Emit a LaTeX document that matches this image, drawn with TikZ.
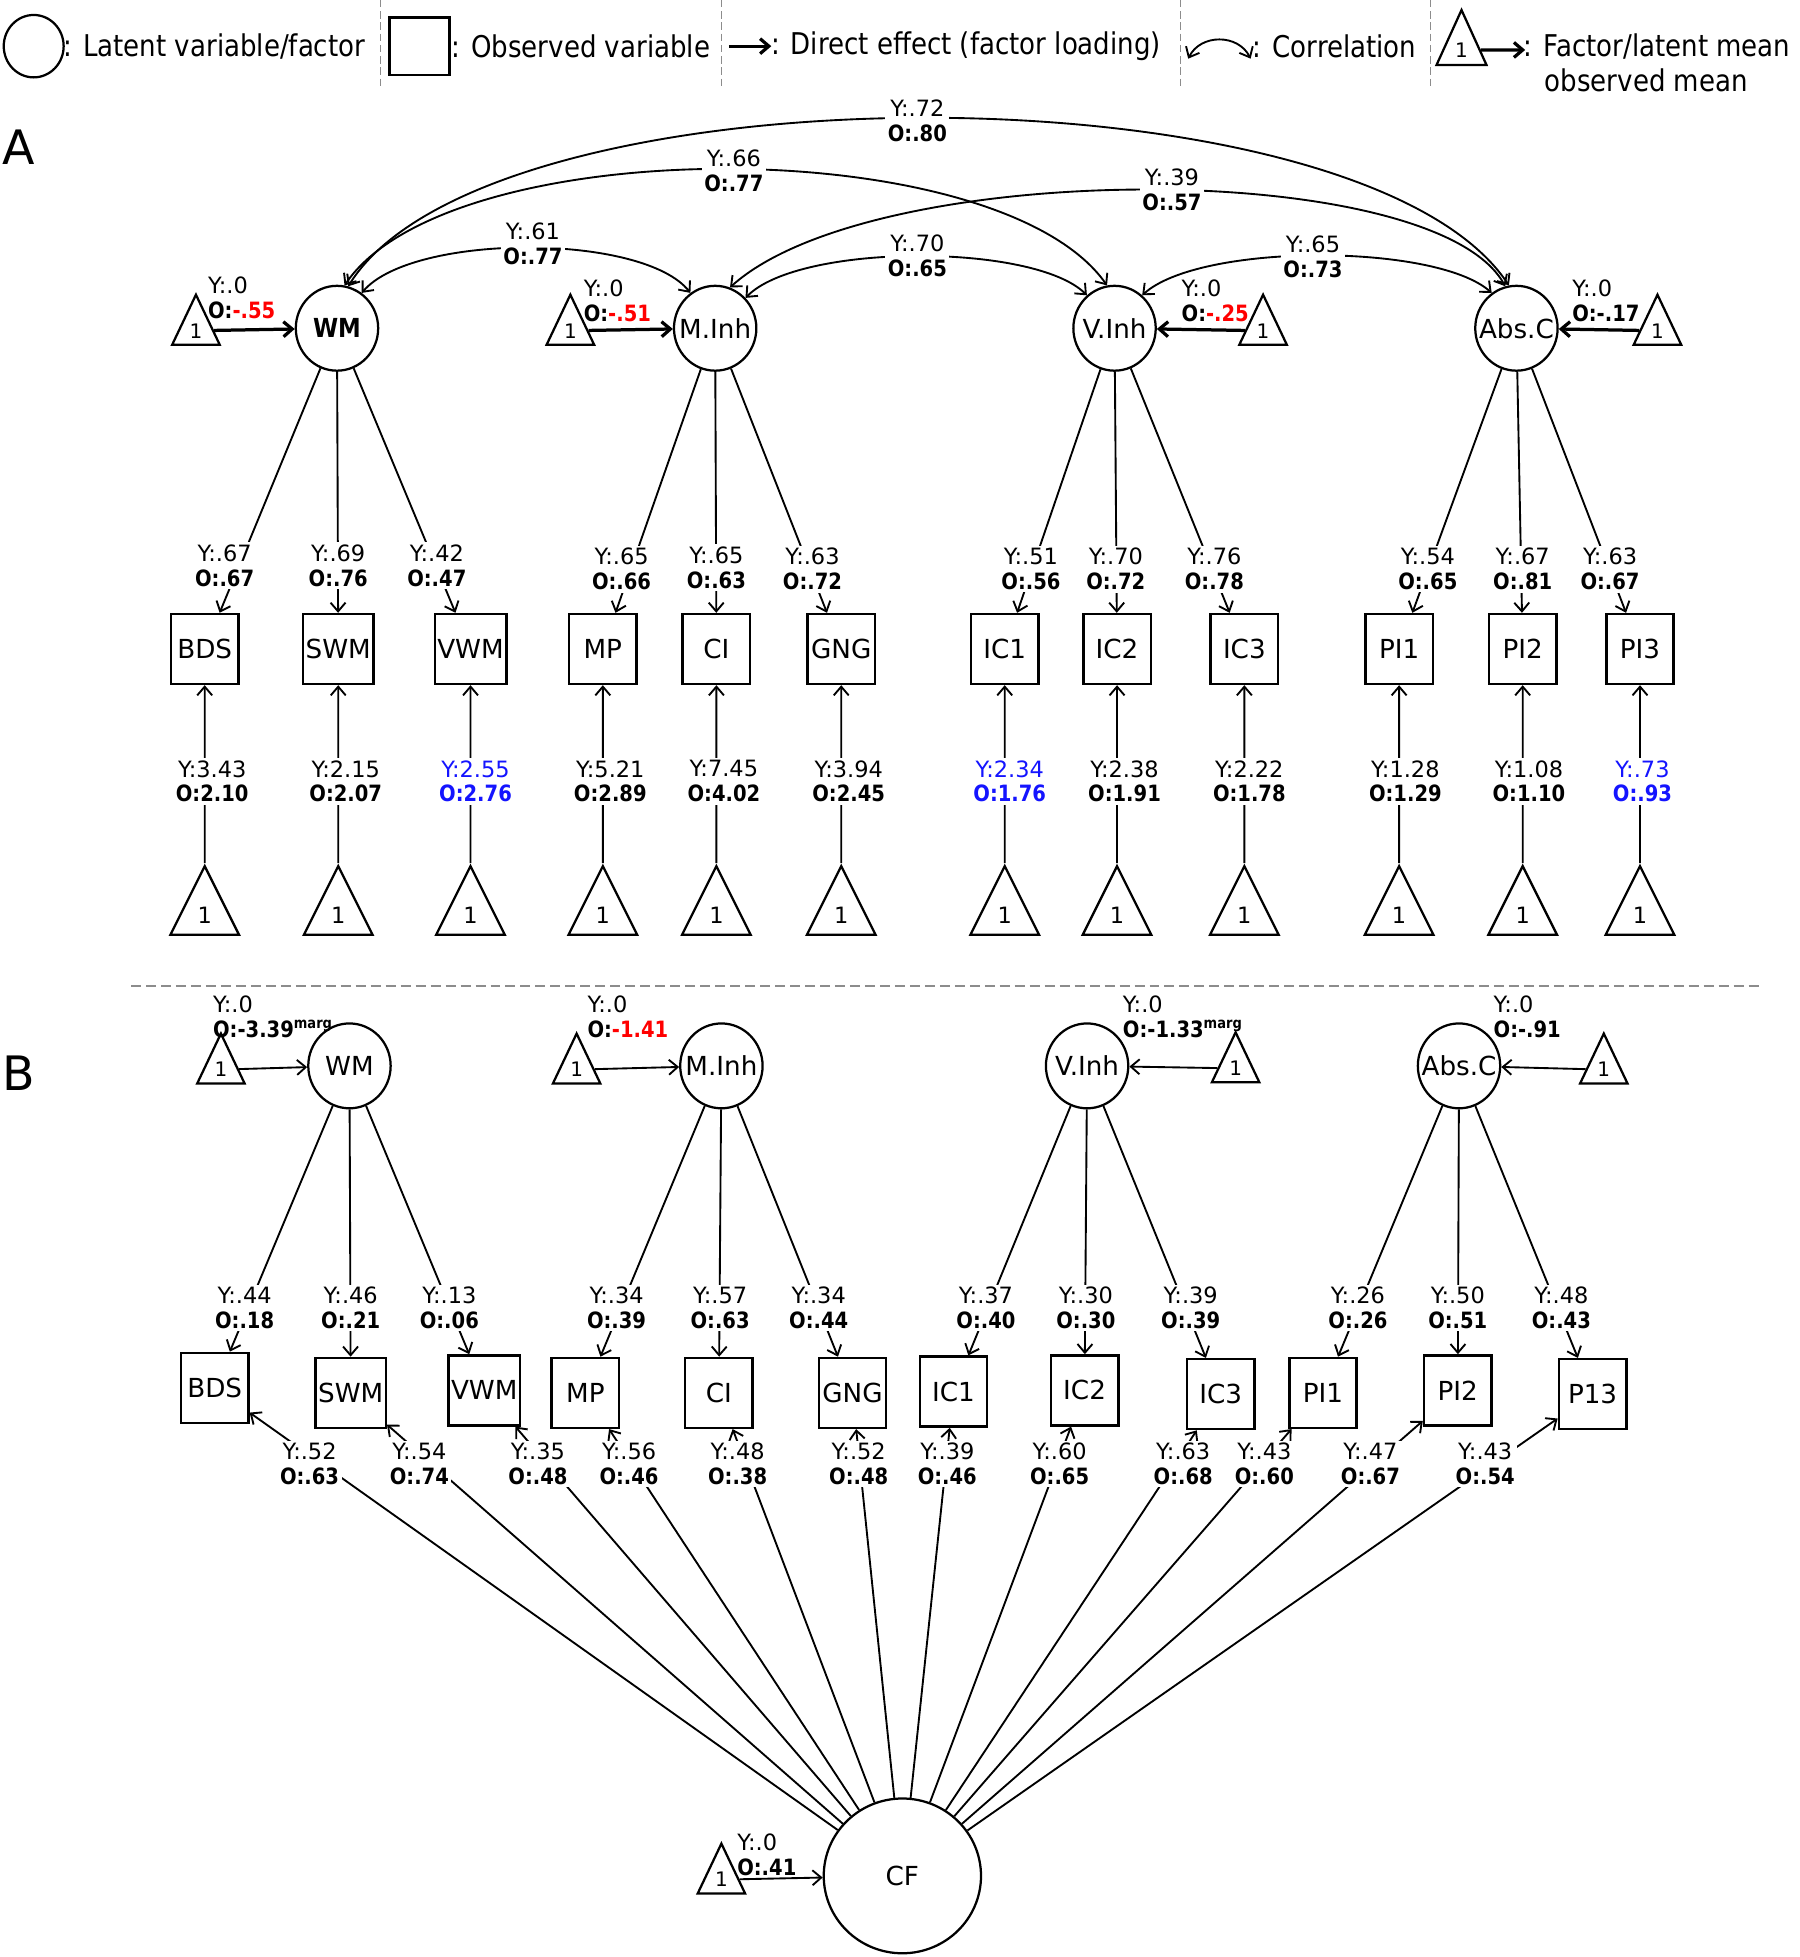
\documentclass[tikz,border=0pt]{standalone}
\usepackage{fontspec}
\setmainfont{DejaVu Sans}[BoldFeatures={FakeStretch=0.87}]
\newfontfamily\legfont{DejaVu Sans}[FakeStretch=0.87]
\usetikzlibrary{shapes.geometric,arrows.meta}
\definecolor{myred}{RGB}{255,0,0}
\definecolor{myblue}{RGB}{20,20,255}
\definecolor{sepgray}{RGB}{140,140,140}
\newcommand{\YO}[2]{Y:#1\\\textbf{O:#2}}
\newcommand{\zw}[1]{\makebox[0pt]{#1}}
\begin{document}
\begin{tikzpicture}[x=0.5pt,y=-0.5pt,
  >={Straight Barb[length=3.5pt,width=6pt]},
  line width=0.75pt,
  lat/.style={ellipse, draw, line width=0.9pt, minimum width=33pt, minimum height=34pt, inner sep=0pt, font=\fontsize{10.5}{12}\selectfont},
  obs/.style={rectangle, draw, line width=1pt, minimum width=27pt, minimum height=28pt, inner sep=1pt, font=\fontsize{10.5}{12}\selectfont},
  tri/.style={isosceles triangle, isosceles triangle stretches, shape border rotate=90, draw, line width=0.9pt, inner sep=0pt, font=\fontsize{8}{8}\selectfont},
  smalltri/.style={tri, minimum width=19pt, minimum height=20pt},
  bigtri/.style={tri, minimum width=27.5pt, minimum height=27.5pt, font=\fontsize{9}{9}\selectfont},
  lab/.style={fill=white, inner sep=1pt, align=center, font=\fontsize{9}{10}\selectfont},
  mlab/.style={inner sep=0pt, align=left, anchor=west, font=\fontsize{9}{10}\selectfont},
  leg/.style={inner sep=0pt, anchor=west, font=\legfont\fontsize{12}{14}\selectfont},
  load/.style={->},
  meanA/.style={->, line width=1.3pt},
  corr/.style={<->},
  sepline/.style={sepgray, line width=0.5pt, dash pattern=on 3pt off 1.5pt}
]
\fill[white] (0,0) rectangle (1442,1568);
\useasboundingbox (0,0) rectangle (1442,1568);

% ---------------- legend ----------------
\node[ellipse, draw, line width=0.9pt, minimum width=24pt, minimum height=25pt, inner sep=0pt] (legcirc) at (27,37) {};
\node[leg] (legt1) at (50,37) {: Latent variable/factor};
\draw[sepline] (305,0) -- (305,72);
\node[rectangle, draw, line width=1pt, minimum width=24pt, minimum height=23pt, inner sep=0pt] (legbox) at (336,37) {};
\node[leg] (legt2) at (361,37) {: Observed variable};
\draw[sepline] (578,0) -- (578,72);
\coordinate (le1) at (584,37);
\coordinate (le2) at (618,37);
\draw[meanA] (le1) -- (le2);
\node[leg] (legt3) at (617,37) {: Direct effect (factor loading)};
\draw[sepline] (946,0) -- (946,72);
\coordinate (lc1) at (952,47);
\coordinate (lc2) at (1002,47);
\draw[corr] (lc1) .. controls (962,27) and (992,27) .. (lc2);
\node[leg] (legt4) at (1003,37) {: Correlation};
\draw[sepline] (1146,0) -- (1146,72);
\node[smalltri, minimum width=20pt, minimum height=22pt] (legtri) at (1171,40) {1};
\coordinate (la2) at (1222,40);
\draw[meanA] (legtri) -- (la2);
\node[leg] (legt5) at (1220,37) {: Factor/latent mean};
\node[leg] (legt6) at (1237,64) {observed mean};

% panel letters
\node[inner sep=0pt, font=\fontsize{19}{20}\selectfont] (pA) at (15,118) {A};
\node[inner sep=0pt, font=\fontsize{19}{20}\selectfont] (pB) at (15,860) {B};

% ---------------- part A ----------------
\node[lat, font=\bfseries\fontsize{10.5}{12}\selectfont] (aWM) at (270,263) {\zw{WM}};
\node[lat] (aMI) at (573,263) {\zw{M.Inh}};
\node[lat] (aVI) at (893,263) {\zw{V.Inh}};
\node[lat] (aAC) at (1215,263) {\zw{Abs.C}};

\node[smalltri] (atWM) at (157,265) {1};
\node[smalltri] (atMI) at (457,265) {1};
\node[smalltri] (atVI) at (1012,265) {1};
\node[smalltri] (atAC) at (1328,265) {1};
\draw[meanA] (atWM) -- (aWM);
\draw[meanA] (atMI) -- (aMI);
\draw[meanA] (atVI) -- (aVI);
\draw[meanA] (atAC) -- (aAC);

\foreach \n/\x in {BDS/164,SWM/271,VWM/377,MP/483,CI/574,GNG/674,IC1/805,IC2/895,IC3/997,PI1/1121,PI2/1220,PI3/1314}{
  \node[obs] (a\n) at (\x,520) {\n};
  \node[bigtri] (ai\n) at (\x,733) {1};
  \draw[load] (ai\n) -- (a\n);
}

\draw[load] (aWM) -- (aBDS);
\draw[load] (aWM) -- (aSWM);
\draw[load] (aWM) -- (aVWM);
\draw[load] (aMI) -- (aMP);
\draw[load] (aMI) -- (aCI);
\draw[load] (aMI) -- (aGNG);
\draw[load] (aVI) -- (aIC1);
\draw[load] (aVI) -- (aIC2);
\draw[load] (aVI) -- (aIC3);
\draw[load] (aAC) -- (aPI1);
\draw[load] (aAC) -- (aPI2);
\draw[load] (aAC) -- (aPI3);

% correlations
\draw[corr] (aWM.55) .. controls +(41,-48) and +(-38,-48) .. (aMI.125);
\draw[corr] (aMI.45) .. controls +(43,-44) and +(-42,-42) .. (aVI.130);
\draw[corr] (aVI.50) .. controls +(46,-42) and +(-45,-40) .. (aAC.125);
\draw[corr] (aWM.80) .. controls +(84,-124) and +(-87,-124) .. (aVI.100);
\draw[corr] (aMI.70) .. controls +(115,-104) and +(-56,-103) .. (aAC.105);
\draw[corr] (aWM.75) .. controls +(111,-179) and +(-119,-179) .. (aAC.100);

\node[lab] (cA1) at (427,195) {\YO{.61}{.77}};
\node[lab] (cA2) at (735,205) {\YO{.70}{.65}};
\node[lab] (cA3) at (1052,206) {\YO{.65}{.73}};
\node[lab] (cA4) at (588,137) {\YO{.66}{.77}};
\node[lab] (cA5) at (939,152) {\YO{.39}{.57}};
\node[lab] (cA6) at (735,97) {\YO{.72}{.80}};

% latent mean labels A
\node[mlab] (mA1) at (166,239) {Y:.0\\\textbf{O:\textcolor{myred}{-.55}}};
\node[mlab] (mA2) at (467,241) {Y:.0\\\textbf{O:\textcolor{myred}{-.51}}};
\node[mlab] (mA3) at (946,241) {Y:.0\\\textbf{O:\textcolor{myred}{-.25}}};
\node[mlab] (mA4) at (1259,241) {Y:.0\\\textbf{O:-.17}};

% loading labels A
\node[lab] (lA1) at (180,453) {\YO{.67}{.67}};
\node[lab] (lA2) at (271,453) {\YO{.69}{.76}};
\node[lab] (lA3) at (350,453) {\YO{.42}{.47}};
\node[lab] (lA4) at (498,456) {\YO{.65}{.66}};
\node[lab] (lA5) at (574,455) {\YO{.65}{.63}};
\node[lab] (lA6) at (651,456) {\YO{.63}{.72}};
\node[lab] (lA7) at (826,456) {\YO{.51}{.56}};
\node[lab] (lA8) at (894,456) {\YO{.70}{.72}};
\node[lab] (lA9) at (973,456) {\YO{.76}{.78}};
\node[lab] (lA10) at (1144,456) {\YO{.54}{.65}};
\node[lab] (lA11) at (1220,456) {\YO{.67}{.81}};
\node[lab] (lA12) at (1290,456) {\YO{.63}{.67}};

% intercept labels A
\node[lab] (iA1) at (170,626) {\YO{3.43}{2.10}};
\node[lab] (iA2) at (277,626) {\YO{2.15}{2.07}};
\node[lab, text=myblue] (iA3) at (381,626) {\YO{2.55}{2.76}};
\node[lab] (iA4) at (489,626) {\YO{5.21}{2.89}};
\node[lab] (iA5) at (580,626) {\YO{7.45}{4.02}};
\node[lab] (iA6) at (680,626) {\YO{3.94}{2.45}};
\node[lab, text=myblue] (iA7) at (809,626) {\YO{2.34}{1.76}};
\node[lab] (iA8) at (901,626) {\YO{2.38}{1.91}};
\node[lab] (iA9) at (1001,626) {\YO{2.22}{1.78}};
\node[lab] (iA10) at (1126,626) {\YO{1.28}{1.29}};
\node[lab] (iA11) at (1225,626) {\YO{1.08}{1.10}};
\node[lab, text=myblue] (iA12) at (1316,626) {\YO{.73}{.93}};

% separator
\draw[sepgray, line width=1pt, dash pattern=on 4pt off 2pt] (105,790) -- (1410,790);

% ---------------- part B ----------------
\node[lat] (bWM) at (280,854) {\zw{WM}};
\node[lat] (bMI) at (578,854) {\zw{M.Inh}};
\node[lat] (bVI) at (871,854) {\zw{V.Inh}};
\node[lat] (bAC) at (1169,854) {\zw{Abs.C}};

\node[smalltri] (btWM) at (177,857) {1};
\node[smalltri] (btMI) at (462,857) {1};
\node[smalltri] (btVI) at (990,856) {1};
\node[smalltri] (btAC) at (1285,857) {1};
\draw[->] (btWM) -- (bWM);
\draw[->] (btMI) -- (bMI);
\draw[->] (btVI) -- (bVI);
\draw[->] (btAC) -- (bAC);

\node[obs] (bBDS) at (172,1112) {BDS};
\node[obs] (bSWM) at (281,1116) {SWM};
\node[obs] (bVWM) at (388,1114) {VWM};
\node[obs] (bMP) at (469,1116) {MP};
\node[obs] (bCI) at (576,1116) {CI};
\node[obs] (bGNG) at (683,1116) {GNG};
\node[obs] (bIC1) at (764,1115) {IC1};
\node[obs] (bIC2) at (869,1114) {IC2};
\node[obs] (bIC3) at (978,1117) {IC3};
\node[obs] (bPI1) at (1060,1116) {PI1};
\node[obs] (bPI2) at (1168,1114) {PI2};
\node[obs] (bP13) at (1276,1117) {P13};

\draw[load] (bWM) -- (bBDS);
\draw[load] (bWM) -- (bSWM);
\draw[load] (bWM) -- (bVWM);
\draw[load] (bMI) -- (bMP);
\draw[load] (bMI) -- (bCI);
\draw[load] (bMI) -- (bGNG);
\draw[load] (bVI) -- (bIC1);
\draw[load] (bVI) -- (bIC2);
\draw[load] (bVI) -- (bIC3);
\draw[load] (bAC) -- (bPI1);
\draw[load] (bAC) -- (bPI2);
\draw[load] (bAC) -- (bP13);

\node[lat, minimum width=63pt, minimum height=62pt] (cf) at (723,1503) {CF};
\node[smalltri] (ctri) at (578,1506) {1};
\draw[->] (ctri) -- (cf);

\foreach \n in {BDS,SWM,VWM,MP,CI,GNG,IC1,IC2,IC3,PI1,PI2,P13}{
  \draw[load] (cf) -- (b\n);
}

% latent mean labels B
\node[mlab] (mB1) at (170,815) {Y:.0\\\textbf{O:-3.39\textsuperscript{marg}}};
\node[mlab] (mB2) at (470,815) {Y:.0\\\textbf{O:\textcolor{myred}{-1.41}}};
\node[mlab] (mB3) at (899,815) {Y:.0\\\textbf{O:-1.33\textsuperscript{marg}}};
\node[mlab] (mB4) at (1196,815) {Y:.0\\\textbf{O:-.91}};
\node[mlab] (mB5) at (590,1486) {Y:.0\\\textbf{O:.41}};

% loading labels B
\node[lab] (lB1) at (196,1048) {\YO{.44}{.18}};
\node[lab] (lB2) at (281,1048) {\YO{.46}{.21}};
\node[lab] (lB3) at (360,1048) {\YO{.13}{.06}};
\node[lab] (lB4) at (494,1048) {\YO{.34}{.39}};
\node[lab] (lB5) at (577,1048) {\YO{.57}{.63}};
\node[lab] (lB6) at (656,1048) {\YO{.34}{.44}};
\node[lab] (lB7) at (790,1048) {\YO{.37}{.40}};
\node[lab] (lB8) at (870,1048) {\YO{.30}{.30}};
\node[lab] (lB9) at (954,1048) {\YO{.39}{.39}};
\node[lab] (lB10) at (1088,1048) {\YO{.26}{.26}};
\node[lab] (lB11) at (1168,1048) {\YO{.50}{.51}};
\node[lab] (lB12) at (1251,1048) {\YO{.48}{.43}};

% CF loading labels
\node[lab] (fB1) at (248,1173) {\YO{.52}{.63}};
\node[lab] (fB2) at (336,1173) {\YO{.54}{.74}};
\node[lab] (fB3) at (431,1173) {\YO{.35}{.48}};
\node[lab] (fB4) at (504,1173) {\YO{.56}{.46}};
\node[lab] (fB5) at (591,1173) {\YO{.48}{.38}};
\node[lab] (fB6) at (688,1173) {\YO{.52}{.48}};
\node[lab] (fB7) at (759,1173) {\YO{.39}{.46}};
\node[lab] (fB8) at (849,1173) {\YO{.60}{.65}};
\node[lab] (fB9) at (948,1173) {\YO{.63}{.68}};
\node[lab] (fB10) at (1013,1173) {\YO{.43}{.60}};
\node[lab] (fB11) at (1098,1173) {\YO{.47}{.67}};
\node[lab] (fB12) at (1190,1173) {\YO{.43}{.54}};
\end{tikzpicture}
\end{document}
